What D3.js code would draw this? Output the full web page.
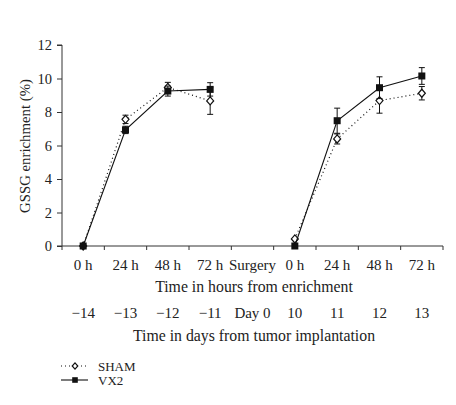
<!DOCTYPE html>
<html><head><meta charset="utf-8">
<script src="https://cdn.jsdelivr.net/npm/d3@7"></script>
<style>body{margin:0;background:#fff}text{font-family:"Liberation Serif","DejaVu Serif",serif;fill:#222}</style>
</head><body><svg id="c" width="456" height="405"></svg>
<script>
const hourLabels = ["0 h","24 h","48 h","72 h","Surgery","0 h","24 h","48 h","72 h"];
const dayLabels = ["\u221214","\u221213","\u221212","\u221211","Day 0","10","11","12","13"];
const yTicks = [0,2,4,6,8,10,12];
// positions (category index) of each measurement
const leftIdx = [0,1,2,3];
const rightIdx = [5,6,7,8];
const shamLeft = [0, 7.56, 9.47, 8.66];
const shamLeftErr = [0, 0.25, 0.3, 0.8];
const vx2Left = [0, 6.93, 9.25, 9.35];
const vx2LeftErr = [0, 0.22, 0.3, 0.4];
const shamRight = [0.42, 6.39, 8.68, 9.12];
const shamRightErr = [0, 0.3, 0.75, 0.4];
const vx2Right = [0, 7.48, 9.45, 10.15];
const vx2RightErr = [0, 0.75, 0.65, 0.5];

const svg = d3.select("#c");
const x = d3.scaleBand().domain(d3.range(hourLabels.length)).range([62,443]);
const y = d3.scaleLinear().domain([0,12]).range([246,45]);
const cx = i => x(i) + x.bandwidth()/2;

// y axis
const ya = svg.append("g").attr("transform","translate(62,0)")
  .call(d3.axisLeft(y).tickValues(yTicks).tickSize(5).tickPadding(5));
ya.selectAll("text").style("font-size","14.5px").style("font-family","Liberation Serif").attr("fill","#222");
ya.selectAll("path,line").attr("stroke","#333");
ya.select(".domain").attr("d","M-5,45H0V246H-5");

// x axis
const xa = svg.append("g").attr("transform","translate(0,246)");
xa.append("line").attr("x1",62).attr("x2",443).attr("stroke","#333");
xa.selectAll("line.t").data(d3.range(hourLabels.length+1)).join("line").attr("class","t")
  .attr("x1",i=>62+i*x.bandwidth()).attr("x2",i=>62+i*x.bandwidth()).attr("y1",0).attr("y2",4).attr("stroke","#333");
svg.selectAll("text.h").data(hourLabels).join("text").attr("class","h")
  .attr("x",(d,i)=>cx(i)).attr("y",270).attr("text-anchor","middle").style("font-size","15px").text(d=>d);
svg.selectAll("text.d").data(dayLabels).join("text").attr("class","d")
  .attr("x",(d,i)=>cx(i)).attr("y",318).attr("text-anchor","middle").style("font-size","15px").text(d=>d);
svg.append("text").attr("x",254).attr("y",292).attr("text-anchor","middle").style("font-size","15.8px").text("Time in hours from enrichment");
svg.append("text").attr("x",254).attr("y",341).attr("text-anchor","middle").style("font-size","15.8px").text("Time in days from tumor implantation");
svg.append("text").attr("transform","translate(30,146) rotate(-90)").attr("text-anchor","middle").style("font-size","14.8px").text("GSSG enrichment (%)");

const line = d3.line().x(d=>cx(d[0])).y(d=>y(d[1]));
function series(idx, vals, errs, dashed, filled){
  const pts = idx.map((k,i)=>[k,vals[i],errs[i]]);
  svg.append("path").datum(pts).attr("d",line).attr("fill","none").attr("stroke","#111")
    .attr("stroke-width",dashed?1.2:1.1).attr("stroke-dasharray",dashed?"1,3":null);
  const g = svg.append("g");
  pts.filter(p=>p[2]>0).forEach(p=>{
    const X=cx(p[0]), y1=y(p[1]+p[2]), y2=y(p[1]-p[2]);
    g.append("line").attr("x1",X).attr("x2",X).attr("y1",y1).attr("y2",y2).attr("stroke","#111");
    g.append("line").attr("x1",X-3).attr("x2",X+3).attr("y1",y1).attr("y2",y1).attr("stroke","#111");
    g.append("line").attr("x1",X-3).attr("x2",X+3).attr("y1",y2).attr("y2",y2).attr("stroke","#111");
  });
  marker(g, pts.map(p=>[cx(p[0]),y(p[1])]), filled);
}
function marker(g, xy, filled, s){
  s = s || 1;
  if(filled){
    g.selectAll(null).data(xy).join("rect").attr("x",d=>d[0]-3.5*s).attr("y",d=>d[1]-3.5*s)
      .attr("width",7*s).attr("height",7*s).attr("fill","#111");
  } else {
    g.selectAll(null).data(xy).join("path").attr("d",d=>`M${d[0]},${d[1]-4*s}L${d[0]+3.5*s},${d[1]}L${d[0]},${d[1]+4*s}L${d[0]-3.5*s},${d[1]}Z`)
      .attr("fill","#fff").attr("stroke","#111").attr("stroke-width",1.2);
  }
}
series(leftIdx, shamLeft, shamLeftErr, true, false);
series(rightIdx, shamRight, shamRightErr, true, false);
series(leftIdx, vx2Left, vx2LeftErr, false, true);
series(rightIdx, vx2Right, vx2RightErr, false, true);

// legend
const lg = svg.append("g");
lg.append("line").attr("x1",61).attr("x2",88).attr("y1",366).attr("y2",366).attr("stroke","#111").attr("stroke-dasharray","1,3").attr("stroke-width",1.2);
marker(lg,[[75,366]],false,0.8);
lg.append("line").attr("x1",61).attr("x2",88).attr("y1",380).attr("y2",380).attr("stroke","#111").attr("stroke-width",1.1);
marker(lg,[[75,380]],true,0.8);
lg.append("text").attr("x",98).attr("y",371).style("font-size","13px").text("SHAM");
lg.append("text").attr("x",98).attr("y",385).style("font-size","13px").text("VX2");
</script></body></html>
